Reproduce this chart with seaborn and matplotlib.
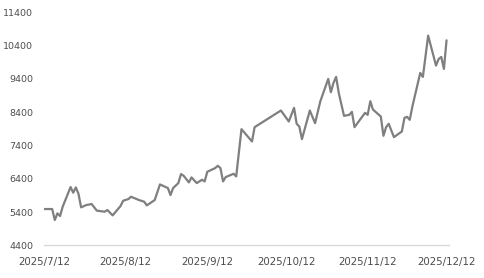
import matplotlib
matplotlib.use("Agg")
import matplotlib.pyplot as plt
import matplotlib.dates as mdates
import seaborn as sns
import pandas as pd
import numpy as np

dates = [
    "2025-07-12", "2025-07-15", "2025-07-16", "2025-07-17", "2025-07-18", "2025-07-19",
    "2025-07-22", "2025-07-23", "2025-07-24", "2025-07-25", "2025-07-26", "2025-07-28",
    "2025-07-30", "2025-08-01", "2025-08-04", "2025-08-05", "2025-08-07", "2025-08-10",
    "2025-08-11", "2025-08-13", "2025-08-14", "2025-08-17", "2025-08-19", "2025-08-20",
    "2025-08-23", "2025-08-25", "2025-08-28", "2025-08-29", "2025-08-30", "2025-09-01",
    "2025-09-02", "2025-09-03", "2025-09-05", "2025-09-06", "2025-09-08", "2025-09-10",
    "2025-09-11", "2025-09-12", "2025-09-15", "2025-09-16", "2025-09-17", "2025-09-18",
    "2025-09-19", "2025-09-22", "2025-09-23", "2025-09-25", "2025-09-29", "2025-09-30",
    "2025-10-10", "2025-10-13", "2025-10-15", "2025-10-16", "2025-10-17", "2025-10-18",
    "2025-10-21", "2025-10-23", "2025-10-25", "2025-10-28", "2025-10-29", "2025-10-30",
    "2025-10-31", "2025-11-01", "2025-11-03", "2025-11-05", "2025-11-06", "2025-11-07",
    "2025-11-11", "2025-11-12", "2025-11-13", "2025-11-14", "2025-11-17", "2025-11-18",
    "2025-11-19", "2025-11-20", "2025-11-22", "2025-11-25", "2025-11-26", "2025-11-27",
    "2025-11-28", "2025-11-29", "2025-12-02", "2025-12-03", "2025-12-05", "2025-12-08",
    "2025-12-09", "2025-12-10", "2025-12-11", "2025-12-12",
]
values = [
    5490, 5490, 5160, 5360, 5280, 5560,
    6150, 5980, 6140, 5950, 5540, 5610,
    5640, 5440, 5410, 5460, 5300, 5580,
    5740, 5790, 5860, 5760, 5710, 5600,
    5760, 6230, 6120, 5910, 6120, 6270,
    6540, 6490, 6290, 6440, 6270, 6370,
    6320, 6610, 6720, 6790, 6720, 6320,
    6450, 6550, 6470, 7890, 7520, 7950,
    8450, 8120, 8530, 8050, 7970, 7590,
    8450, 8070, 8730, 9400, 9000, 9280,
    9460, 8980, 8290, 8320, 8410, 7950,
    8380, 8320, 8730, 8480, 8270, 7690,
    7950, 8050, 7650, 7820, 8230, 8260,
    8170, 8570, 9580, 9460, 10700, 9800,
    10000, 10060, 9700, 10560,
]
x_ticks = ["2025-07-12", "2025-08-12", "2025-09-12", "2025-10-12", "2025-11-12", "2025-12-12"]
y_ticks = [4400, 5400, 6400, 7400, 8400, 9400, 10400, 11400]

df = pd.DataFrame({"date": pd.to_datetime(dates), "value": values})

sns.set_style("white")
plt.rcParams["font.family"] = ["DejaVu Sans"]

fig = plt.figure(figsize=(4.84, 2.78), dpi=100)
ax = fig.add_axes([0.0915, 0.1176, 0.836, 0.838])

sns.lineplot(data=df, x="date", y="value", ax=ax, color="#7f7f7f", linewidth=1.6)

ax.set_xlim(pd.Timestamp("2025-07-12"), pd.Timestamp("2025-12-12") + pd.Timedelta(days=0.9))
ax.set_ylim(4400, 11400)
ax.set_yticks(y_ticks)
ax.set_xticks(pd.to_datetime(x_ticks))
ax.xaxis.set_major_formatter(plt.FuncFormatter(
    lambda v, p: (lambda d: f"{d.year}/{d.month}/{d.day}")(mdates.num2date(v))))

ax.set_xlabel("")
ax.set_ylabel("")
for s in ["top", "right", "left"]:
    ax.spines[s].set_visible(False)
ax.spines["bottom"].set_color("#d9d9d9")
ax.spines["bottom"].set_linewidth(1.0)
ax.tick_params(axis="x", direction="out", length=3, width=1, color="#d9d9d9",
               labelsize=7.4, labelcolor="#4d4d4d", pad=5.5)
ax.tick_params(axis="y", length=0, labelsize=6.8, labelcolor="#4d4d4d", pad=8)
ax.grid(False)

fig.savefig("out.png", dpi=100)
